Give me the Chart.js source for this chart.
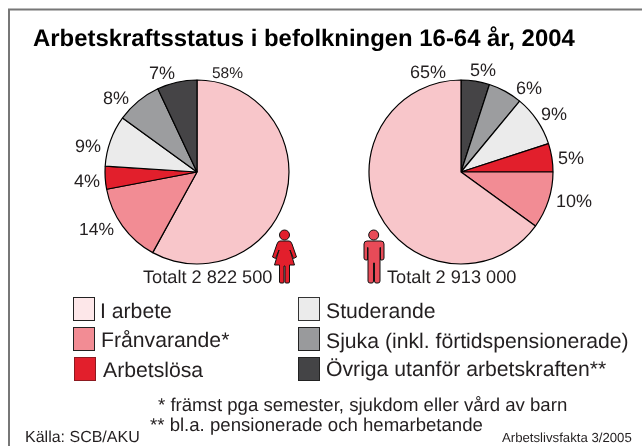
<!DOCTYPE html>
<html lang="sv">
<head>
<meta charset="utf-8">
<title>Arbetskraftsstatus i befolkningen 16-64 år, 2004</title>
<script src="https://cdn.jsdelivr.net/npm/chart.js@4"></script>
<style>
html, body { margin: 0; padding: 0; background: #fff; }
#page { position: relative; width: 642px; height: 446px; overflow: hidden; font-family: "Liberation Sans", Arial, sans-serif; }
#page canvas { position: absolute; }
#overlay { position: absolute; left: 0; top: 0; }
#overlay text { fill: #231f20; text-rendering: geometricPrecision; }
</style>
</head>
<body>
<div id="page">
  <canvas id="women" width="186" height="186" style="left:104px;top:79px;width:186px;height:186px"></canvas>
  <canvas id="men" width="186" height="186" style="left:368px;top:79px;width:186px;height:186px"></canvas>
  <svg id="overlay" width="642" height="446" xmlns="http://www.w3.org/2000/svg">
    <path d="M9 446V9.5H642" fill="none" stroke="#777" stroke-width="2"/>
    <g stroke="#111" stroke-width="1" stroke-linejoin="round">
      <circle cx="284.500" cy="235" r="5" fill="#e21f2c"/>
      <path d="M280 241H289Q291 241 292 244L296.500 257L293.500 258.500L290 250L294.500 265H289.500V282Q289.500 283 288 283H286Q285 283 285 282V266H284V282Q284 283 283 283H281Q279.500 283 279.500 282V265H274.500L279 250L275.500 258.500L272.500 257L277 244Q278 241 280 241Z" fill="#e21f2c"/>
      <circle cx="373.700" cy="235" r="5" fill="#e84b58"/>
      <path d="M367 241H381Q384 241 384 244V258Q384 260 382 260H380.500V247.500H380V281Q380 283 378 283H376Q374.500 283 374.500 281V263H373.500V281Q373.500 283 372 283H370Q368 283 368 281V247.500H367.500V260H366Q364 260 364 258V244Q364 241 367 241Z" fill="#e84b58"/>
    </g>
  </svg>
</div>
<script>
const categories = ['I arbete', 'Frånvarande*', 'Arbetslösa', 'Studerande', 'Sjuka (inkl. förtidspensionerade)', 'Övriga utanför arbetskraften**'];
const womenValues = [58, 14, 4, 9, 8, 7];
const menValues = [65, 10, 5, 9, 6, 5];
const sliceColors = ['#f8c6ca', '#f28c94', '#e21f2c', '#ebebeb', '#9c9d9f', '#454446'];
const swatchColors = ['#fde7e9', '#f28c94', '#e21f2c', '#ebebeb', '#999a9c', '#444446'];
const swatchEdges = ['#222', '#222', '#8c1a20', '#333', '#222', '#222'];
const womenTotal = 'Totalt 2 822 500';
const menTotal = 'Totalt 2 913 000';
const titleText = 'Arbetskraftsstatus i befolkningen 16-64 år, 2004';
const footnotes = ['* främst pga semester, sjukdom eller vård av barn', '** bl.a. pensionerade och hemarbetande'];
const sourceText = 'Källa: SCB/AKU';
const issueText = 'Arbetslivsfakta 3/2005';

// the percent labels are hand placed in the original, so x/baseline per slice
const womenSpots = [[212, 78, 15.5], [79, 235, 17.5], [74, 187, 18], [75, 152, 18], [103, 104, 18], [149, 79, 18]];
const menSpots = [[410, 78, 18], [556, 207, 18], [558, 164, 18], [541, 120, 18], [516, 94, 18], [470, 76, 18]];
const swatchSpots = [[73, 297], [73, 327], [74, 357], [298, 297], [298, 327], [298, 357]];
const legendSpots = [[100, 318], [101, 347], [103, 377], [326, 318], [326, 348], [326, 376]];

const svg = document.getElementById('overlay');
const NS = 'http://www.w3.org/2000/svg';

function addText(str, x, y, size, weight) {
    const t = document.createElementNS(NS, 'text');
    t.setAttribute('x', x);
    t.setAttribute('y', y);
    t.setAttribute('font-size', size);
    if (weight) {
        t.setAttribute('font-weight', weight);
        t.style.fill = '#000';
    }
    t.textContent = str;
    svg.appendChild(t);
}

function addSwatch(x, y, fill, edge) {
    const r = document.createElementNS(NS, 'rect');
    r.setAttribute('x', x + 0.5);
    r.setAttribute('y', y + 0.5);
    r.setAttribute('width', 21);
    r.setAttribute('height', 23);
    r.setAttribute('fill', fill);
    r.setAttribute('stroke', edge);
    svg.appendChild(r);
}

function drawPie(id, values, colors) {
    return new Chart(document.getElementById(id), {
        type: 'pie',
        data: {
            labels: categories.slice(),
            datasets: [{
                data: values,
                backgroundColor: colors,
                borderColor: '#000',
                borderWidth: 1.2,
                hoverOffset: 0
            }]
        },
        options: {
            responsive: false,
            animation: false,
            radius: 92,
            layout: { padding: 0 },
            plugins: { legend: { display: false }, tooltip: { enabled: false } }
        }
    });
}

drawPie('women', womenValues, sliceColors);
// men run the other way round the circle, ending at twelve o'clock with I arbete
drawPie('men', menValues.slice().reverse(), sliceColors.slice().reverse());

addText(titleText, 33, 46, 23.9, 'bold');
womenValues.forEach(function (v, i) {
    addText(v + '%', womenSpots[i][0], womenSpots[i][1], womenSpots[i][2]);
});
menValues.forEach(function (v, i) {
    addText(v + '%', menSpots[i][0], menSpots[i][1], menSpots[i][2]);
});
addText(womenTotal, 143, 283, 18.2);
addText(menTotal, 387, 283, 18.2);
categories.forEach(function (c, i) {
    addSwatch(swatchSpots[i][0], swatchSpots[i][1], swatchColors[i], swatchEdges[i]);
    addText(c, legendSpots[i][0], legendSpots[i][1], 21.2);
});
addText(footnotes[0], 158, 411, 18.6);
addText(footnotes[1], 150, 431, 18.6);
addText(sourceText, 25, 442, 16);
addText(issueText, 502, 442, 13.2);
</script>
</body>
</html>
